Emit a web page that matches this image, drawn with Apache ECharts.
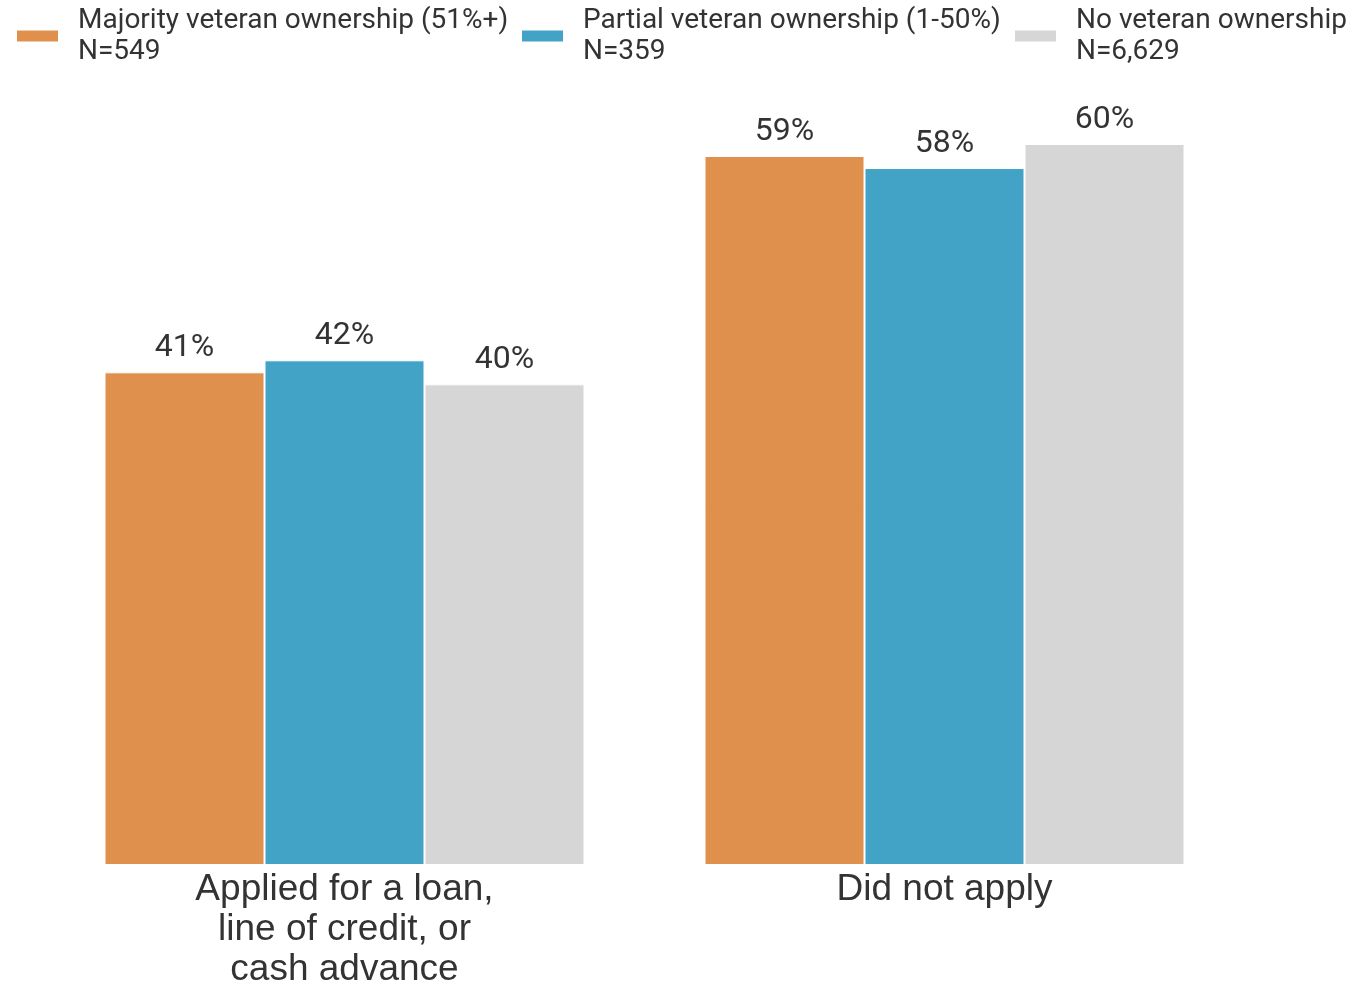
<!DOCTYPE html>
<html>
<head>
<meta charset="utf-8">
<script src="https://cdn.jsdelivr.net/npm/echarts@6/dist/echarts.min.js"></script>
<style>
html,body{margin:0;padding:0;background:#fff;}
#chart{width:1350px;height:990px;}
</style>
</head>
<body>
<div id="chart"></div>
<script>
const categories = ['Applied for a loan,\nline of credit, or\ncash advance', 'Did not apply'];
const seriesNames = ['Majority veteran ownership (51%+)', 'Partial veteran ownership (1-50%)', 'No veteran ownership'];
const sampleSizes = ['N=549', 'N=359', 'N=6,629'];
const majorityValues = [41, 59];
const partialValues = [42, 58];
const noneValues = [40, 60];
const colors = ['#DE904C', '#42A3C6', '#D6D6D6'];

const valueSets = [majorityValues, partialValues, noneValues];
const legendLefts = [10, 515, 1008];

const chart = echarts.init(document.getElementById('chart'));
chart.setOption({
  animation: false,
  grid: { left: 44.5, right: 105.5, top: 144, bottom: 122 },
  legend: seriesNames.map((n, i) => ({
    data: [n],
    left: legendLefts[i],
    top: 0,
    itemWidth: 43,
    itemHeight: 13,
    icon: 'rect',
    selectedMode: false,
    formatter: (name) => name + '\n' + sampleSizes[i],
    textStyle: { fontFamily: 'Roboto', fontSize: 28, color: '#333', lineHeight: 31, padding: [0, 0, 0, 14] }
  })),
  xAxis: {
    type: 'category',
    data: categories,
    axisLine: { show: false },
    axisTick: { show: false },
    axisLabel: { fontFamily: 'Liberation Sans', fontSize: 37, lineHeight: 40, color: '#333', margin: 5, interval: 0 }
  },
  yAxis: {
    type: 'value', min: 0, max: 60,
    show: false,
    splitLine: { show: false }
  },
  series: valueSets.map((vals, i) => ({
    name: seriesNames[i],
    type: 'bar',
    data: vals,
    barGap: '0%',
    barCategoryGap: '20%',
    itemStyle: { color: colors[i], borderColor: '#fff', borderWidth: 1 },
    label: {
      show: true, position: 'top', distance: 8,
      formatter: '{c}%',
      fontFamily: 'Roboto', fontSize: 32, color: '#333'
    }
  }))
});
</script>
</body>
</html>
